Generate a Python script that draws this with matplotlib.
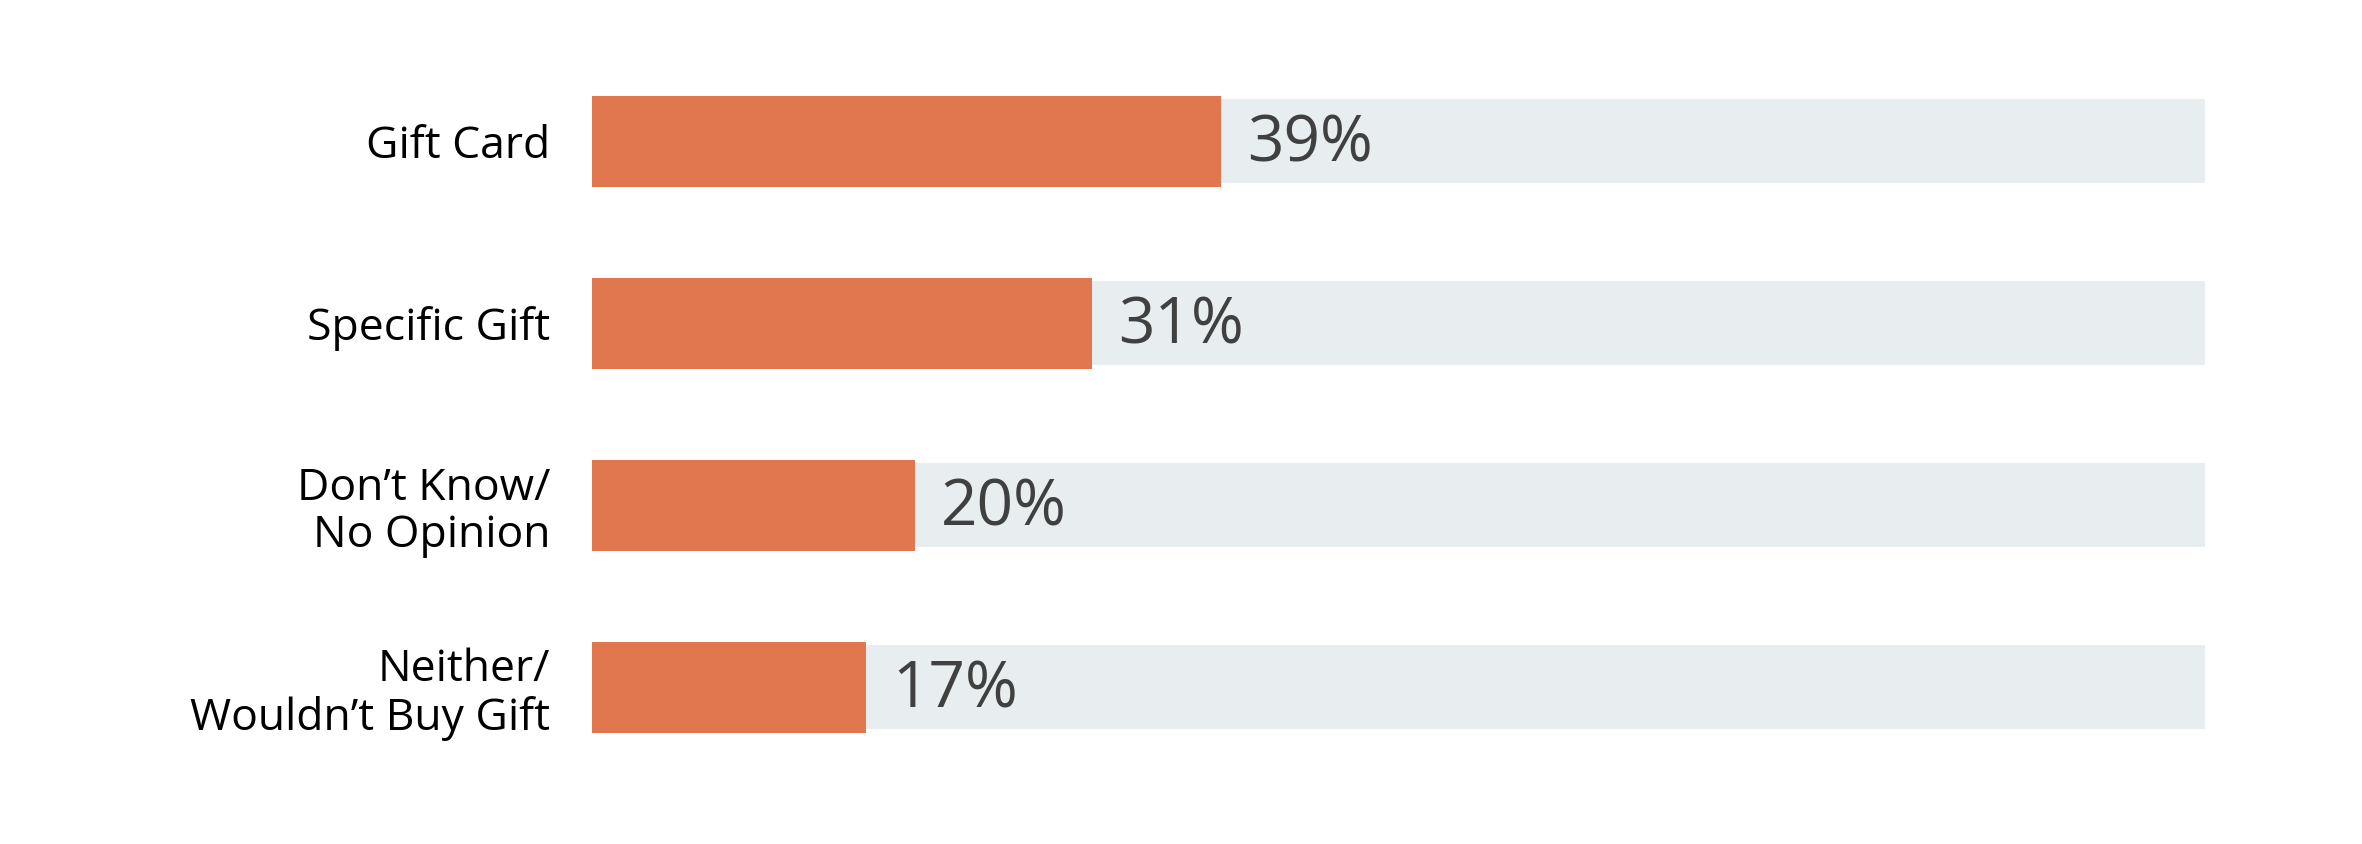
import matplotlib
matplotlib.use("Agg")
from matplotlib import pyplot as plt

# chart data
categories = ["Gift Card", "Specific Gift", "Don\u2019t Know/\nNo Opinion", "Neither/\nWouldn\u2019t Buy Gift"]
values = [39, 31, 20, 17]
total = 100

ORANGE = "#E0774F"
TRACK = "#E8EDF0"
TEXT = "#404040"

plt.rcParams["font.family"] = ["Open Sans", "DejaVu Sans"]

fig = plt.figure(figsize=(23.62, 8.44), dpi=100)
ax = fig.add_axes([592 / 2362, 66 / 844, (2205 - 592) / 2362, 728 / 844])

pos = list(range(len(categories)))
# background track then value bar
ax.barh(pos, [total] * len(values), height=0.46, color=TRACK, zorder=1)
ax.barh(pos, values, height=0.5, color=ORANGE, zorder=2)

for y, v in zip(pos, values):
    ax.text(v + 1.6, y + 0.02, f"{v}%", va="center", ha="left",
            fontsize=46, color=TEXT, zorder=3)

ax.set_xlim(0, total)
ax.set_ylim(len(categories) - 0.5, -0.5)
ax.set_yticks(pos)
ax.set_yticklabels(categories, fontsize=32, color="black", linespacing=1.1)
ax.tick_params(axis="y", length=0, pad=30)
ax.set_xticks([])
for s in ax.spines.values():
    s.set_visible(False)

fig.savefig("out.png", dpi=100, facecolor="white")
